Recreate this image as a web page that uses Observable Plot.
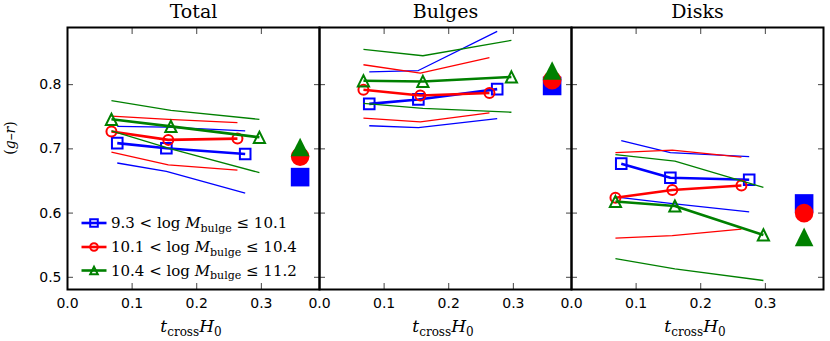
<!DOCTYPE html>
<html><head><meta charset="utf-8">
<script src="https://cdn.jsdelivr.net/npm/d3@7"></script>
<script src="https://cdn.jsdelivr.net/npm/@observablehq/plot@0.6"></script>
<style>body{margin:0;background:#fff} #chart{width:830px;height:341px}</style>
</head><body><div id="chart"></div>
<script>
const panels = ["Total", "Bulges", "Disks"];
const xTicks = [0, 0.1, 0.2, 0.3];
const yTicks = [0.5, 0.6, 0.7, 0.8];
const seriesColors = ["#0000ff", "#ff0000", "#008000"];
const seriesLow = ["9.3", "10.1", "10.4"];
const seriesHigh = ["10.1", "10.4", "11.2"];
const seriesX = [[0.077, 0.153, 0.275], [0.068, 0.156, 0.263], [0.068, 0.160, 0.297]];

const medianTotal = [[0.709, 0.701, 0.692], [0.727, 0.714, 0.716], [0.746, 0.735, 0.718]];
const upperTotal = [[0.735, 0.734, 0.728], [0.751, 0.746, 0.741], [0.775, 0.760, 0.746]];
const lowerTotal = [[0.678, 0.665, 0.631], [0.695, 0.675, 0.667], [0.728, 0.700, 0.663]];
const medianBulges = [[0.770, 0.777, 0.793], [0.792, 0.783, 0.787], [0.806, 0.805, 0.812]];
const upperBulges = [[0.820, 0.822, 0.883], [0.831, 0.818, 0.842], [0.855, 0.845, 0.869]];
const lowerBulges = [[0.736, 0.733, 0.747], [0.748, 0.742, 0.756], [0.771, 0.763, 0.757]];
const medianDisks = [[0.677, 0.655, 0.652], [0.624, 0.636, 0.643], [0.618, 0.611, 0.566]];
const upperDisks = [[0.713, 0.694, 0.688], [0.694, 0.698, 0.687], [0.691, 0.681, 0.640]];
const lowerDisks = [[0.624, 0.615, 0.602], [0.561, 0.565, 0.575], [0.529, 0.513, 0.495]];
const overallX = 0.36;
const overallTotal = [0.656, 0.688, 0.703];
const overallBulges = [0.798, 0.807, 0.822];
const overallDisks = [0.615, 0.600, 0.563];

// matplotlib-like marker shapes (centered on bounding box)
const mplSquare = {draw(ctx, size) { const r = Math.sqrt(size / Math.PI); ctx.rect(-r, -r, 2 * r, 2 * r); }};
const mplCircle = {draw(ctx, size) { const r = Math.sqrt(size / Math.PI); ctx.moveTo(r, 0); ctx.arc(0, 0, r, 0, 2 * Math.PI); ctx.closePath(); }};
const mplTriangle = {draw(ctx, size) { const r = Math.sqrt(size / Math.PI); ctx.moveTo(0, -r); ctx.lineTo(r, r); ctx.lineTo(-r, r); ctx.closePath(); }};
const symbols = [mplSquare, mplCircle, mplTriangle];
const smallR = [5.3, 5, 5.6];

const panelSets = [
  [medianTotal, upperTotal, lowerTotal, overallTotal],
  [medianBulges, upperBulges, lowerBulges, overallBulges],
  [medianDisks, upperDisks, lowerDisks, overallDisks]
];
const rows = [];
const overall = [];
panels.forEach((p, pi) => {
  const [med, up, lo, ov] = panelSets[pi];
  for (let s = 0; s < 3; s++) {
    for (let i = 0; i < 3; i++) {
      rows.push({panel: p, s, kind: "median", x: seriesX[s][i], y: med[s][i]});
      rows.push({panel: p, s, kind: "upper", x: seriesX[s][i], y: up[s][i]});
      rows.push({panel: p, s, kind: "lower", x: seriesX[s][i], y: lo[s][i]});
    }
    overall.push({panel: p, s, x: overallX, y: ov[s]});
  }
});

const marks = [];
for (let s = 0; s < 3; s++) {
  marks.push(Plot.line(rows.filter(d => d.s === s && d.kind !== "median"),
    {fx: "panel", x: "x", y: "y", z: "kind", stroke: seriesColors[s], strokeWidth: 1.3, strokeLinecap: "butt"}));
  marks.push(Plot.line(rows.filter(d => d.s === s && d.kind === "median"),
    {fx: "panel", x: "x", y: "y", stroke: seriesColors[s], strokeWidth: 2.6, strokeLinecap: "butt"}));
  marks.push(Plot.dot(rows.filter(d => d.s === s && d.kind === "median"),
    {fx: "panel", x: "x", y: "y", symbol: symbols[s], r: smallR[s], stroke: seriesColors[s], strokeWidth: 2, fill: "none"}));
}
for (let s = 0; s < 3; s++) {
  marks.push(Plot.dot(overall.filter(d => d.s === s),
    {fx: "panel", x: "x", y: "y", symbol: symbols[s], r: 9.3, fill: seriesColors[s], stroke: "none"}));
}

const tickStyle = {tickSize: -6, tickFormat: () => "", fill: "none", label: null, stroke: "#444", strokeWidth: 1};

const plot = Plot.plot({
  width: 830, height: 341,
  marginLeft: 67, marginRight: 7, marginTop: 27, marginBottom: 52,
  x: {domain: [0, 0.39]},
  y: {domain: [0.481, 0.889]},
  fx: {domain: panels, padding: 0},
  style: {fontFamily: "DejaVu Sans", fontSize: "14px", background: "white", color: "black", overflow: "visible"},
  marks: [
    ...marks,
    Plot.axisX({anchor: "bottom", ticks: xTicks, ...tickStyle}),
    Plot.axisX({anchor: "top", ticks: xTicks, ...tickStyle}),
    Plot.axisY({anchor: "left", ticks: yTicks, facetAnchor: null, ...tickStyle}),
    Plot.axisY({anchor: "right", ticks: yTicks, facetAnchor: null, ...tickStyle}),
    Plot.axisX({anchor: "bottom", ticks: xTicks, tickSize: 0, tickPadding: 9, tickFormat: d3.format(".1f"), label: null, fontSize: 14, fontFamily: "DejaVu Sans"}),
    Plot.axisY({anchor: "left", ticks: yTicks, tickSize: 0, tickPadding: 6, tickFormat: d3.format(".1f"), label: null, fontSize: 14, fontFamily: "DejaVu Sans"}),
    Plot.axisFx({anchor: "top", tickSize: 0, tickPadding: 10, label: null, fontSize: 19, fontFamily: "DejaVu Serif"}),
    Plot.frame({stroke: "black", strokeWidth: 2})
  ]
});
document.getElementById("chart").appendChild(plot);

// annotations: axis titles with sub-scripts and the legend
const svg = d3.select(plot);
const fx = plot.scale("fx");
const bw = fx.bandwidth;
const yr = plot.scale("y").range; // [bottom, top]
const frameBottom = Math.max(...yr);
const serif = "DejaVu Serif";

panels.forEach(p => {
  const cx = fx.apply(p) + bw / 2 - 2;
  const t = svg.append("text").attr("x", cx).attr("y", frameBottom + 43)
    .attr("text-anchor", "middle").attr("font-family", serif).attr("font-size", 17).attr("fill", "black");
  t.append("tspan").attr("font-style", "italic").text("t");
  t.append("tspan").attr("font-size", 12).attr("dy", 4).text("cross");
  t.append("tspan").attr("font-style", "italic").attr("dy", -4).text("H");
  t.append("tspan").attr("font-size", 12).attr("dy", 4).text("0");
});

const yl = svg.append("text").attr("transform", `translate(15,138) rotate(-90)`)
  .attr("text-anchor", "middle").attr("font-family", serif).attr("font-size", 14).attr("fill", "black");
yl.append("tspan").text("(");
yl.append("tspan").attr("font-style", "italic").text("g");
yl.append("tspan").text("\u2013");
yl.append("tspan").attr("font-style", "italic").text("r");
yl.append("tspan").text(")");

const left0 = fx.apply(panels[0]);
const legend = svg.append("g");
const rowY = [frameBottom - 66, frameBottom - 42, frameBottom - 18.5];
for (let s = 0; s < 3; s++) {
  const yy = rowY[s];
  legend.append("line").attr("x1", left0 + 14.5).attr("x2", left0 + 39.5).attr("y1", yy).attr("y2", yy)
    .attr("stroke", seriesColors[s]).attr("stroke-width", 2.6);
  legend.append("path").attr("d", d3.symbol(symbols[s], Math.PI * 3.8 * 3.8)())
    .attr("transform", `translate(${left0 + 27},${yy})`)
    .attr("fill", "none").attr("stroke", seriesColors[s]).attr("stroke-width", 2);
  const tx = legend.append("text").attr("x", left0 + 44).attr("y", yy + 5.3)
    .attr("text-anchor", "start")
    .attr("font-family", serif).attr("font-size", 15).attr("fill", "black");
  tx.append("tspan").text(seriesLow[s] + " < log ");
  tx.append("tspan").attr("font-style", "italic").text("M");
  tx.append("tspan").attr("font-size", 11).attr("dy", 3.5).text("bulge");
  tx.append("tspan").attr("dy", -3.5).text(" \u2264 " + seriesHigh[s]);
}
</script>
</body></html>
